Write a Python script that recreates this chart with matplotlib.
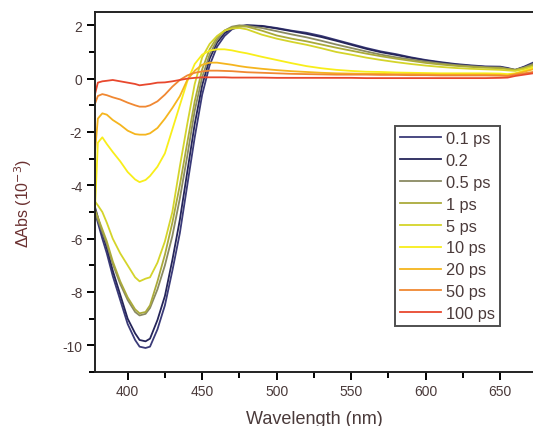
import matplotlib
matplotlib.use("Agg")
import matplotlib.pyplot as plt
from matplotlib.ticker import MultipleLocator

plt.rcParams['font.family'] = ['Liberation Sans', 'DejaVu Sans']
plt.rcParams['axes.unicode_minus'] = False

# wavelength grid (nm)
wl = [378, 380, 383, 386, 390, 395, 400, 405, 408, 412, 415, 420, 425, 430, 435,
      440, 445, 450, 455, 460, 465, 470, 475, 480, 490, 500, 510, 520, 530, 540,
      550, 560, 570, 580, 590, 600, 610, 620, 630, 640, 650, 655, 660, 666, 672]

# delta Abs (1e-3) for each delay
d_01 = [-5.0, -5.4, -6.0, -6.55, -7.4, -8.3, -9.2, -9.8, -10.05, -10.1, -10.05, -9.4, -8.5, -7.2, -5.8,
        -4.0, -2.2, -0.6, 0.5, 1.2, 1.6, 1.85, 1.95, 2.0, 1.98, 1.9, 1.8, 1.72, 1.6, 1.45,
        1.3, 1.15, 1.02, 0.92, 0.8, 0.7, 0.62, 0.55, 0.5, 0.46, 0.45, 0.4, 0.33, 0.45, 0.6]
d_02 = [-4.8, -5.2, -5.8, -6.35, -7.2, -8.1, -9.0, -9.55, -9.8, -9.85, -9.75, -9.05, -8.15, -6.8, -5.3,
        -3.5, -1.7, -0.25, 0.75, 1.35, 1.7, 1.9, 1.97, 2.0, 1.97, 1.88, 1.78, 1.68, 1.56, 1.42,
        1.27, 1.12, 0.99, 0.89, 0.78, 0.68, 0.6, 0.53, 0.48, 0.44, 0.43, 0.38, 0.32, 0.43, 0.56]
d_05 = [-5.0, -5.3, -5.75, -6.2, -6.95, -7.7, -8.3, -8.75, -8.88, -8.82, -8.6, -7.9, -7.0, -5.9, -4.5,
        -2.9, -1.2, 0.05, 0.9, 1.45, 1.8, 1.95, 2.0, 1.98, 1.9, 1.78, 1.66, 1.55, 1.42, 1.28,
        1.15, 1.02, 0.9, 0.8, 0.72, 0.64, 0.57, 0.51, 0.47, 0.43, 0.42, 0.37, 0.33, 0.42, 0.55]
d_1 = [-4.9, -5.2, -5.65, -6.1, -6.85, -7.6, -8.2, -8.65, -8.8, -8.75, -8.5, -7.6, -6.6, -5.4, -4.0,
       -2.4, -0.85, 0.35, 1.1, 1.55, 1.8, 1.92, 1.96, 1.95, 1.8, 1.62, 1.5, 1.4, 1.28, 1.16,
       1.05, 0.94, 0.84, 0.75, 0.67, 0.59, 0.53, 0.48, 0.44, 0.41, 0.39, 0.36, 0.33, 0.4, 0.5]
d_5 = [-4.6, -4.75, -5.0, -5.4, -6.0, -6.55, -7.0, -7.45, -7.6, -7.5, -7.45, -6.9, -6.1, -5.0, -3.3,
       -1.7, -0.2, 0.8, 1.3, 1.6, 1.8, 1.88, 1.9, 1.85, 1.65, 1.5, 1.38, 1.27, 1.14, 1.0,
       0.9, 0.79, 0.7, 0.62, 0.55, 0.49, 0.44, 0.4, 0.37, 0.35, 0.33, 0.31, 0.29, 0.36, 0.45]
d_10 = [-5.0, -2.4, -2.2, -2.45, -2.75, -3.1, -3.5, -3.78, -3.88, -3.8, -3.65, -3.3, -2.8, -1.9, -1.0,
        -0.1, 0.55, 0.9, 1.05, 1.1, 1.1, 1.06, 1.0, 0.95, 0.82, 0.7, 0.58, 0.47, 0.39, 0.33,
        0.29, 0.26, 0.25, 0.23, 0.22, 0.21, 0.2, 0.2, 0.2, 0.2, 0.19, 0.17, 0.2, 0.3, 0.4]
d_20 = [-2.8, -1.5, -1.3, -1.35, -1.55, -1.73, -1.95, -2.08, -2.1, -2.1, -2.05, -1.85, -1.5, -1.1, -0.66,
        -0.05, 0.3, 0.52, 0.6, 0.6, 0.56, 0.52, 0.47, 0.43, 0.37, 0.32, 0.28, 0.25, 0.22, 0.2,
        0.19, 0.18, 0.18, 0.17, 0.17, 0.16, 0.15, 0.15, 0.15, 0.15, 0.14, 0.12, 0.18, 0.26, 0.35]
d_50 = [-0.95, -0.65, -0.58, -0.62, -0.7, -0.78, -0.9, -1.0, -1.05, -1.05, -1.0, -0.85, -0.6, -0.3, -0.05,
        0.12, 0.22, 0.27, 0.3, 0.3, 0.29, 0.28, 0.26, 0.24, 0.22, 0.2, 0.18, 0.17, 0.16, 0.15,
        0.15, 0.15, 0.14, 0.14, 0.13, 0.13, 0.12, 0.12, 0.12, 0.12, 0.11, 0.1, 0.15, 0.2, 0.25]
d_100 = [-0.6, -0.15, -0.1, -0.08, -0.05, -0.1, -0.15, -0.2, -0.25, -0.22, -0.2, -0.15, -0.14, -0.1, -0.05,
         0.0, 0.03, 0.05, 0.05, 0.05, 0.05, 0.04, 0.04, 0.04, 0.04, 0.03, 0.03, 0.03, 0.03, 0.03,
         0.03, 0.02, 0.02, 0.02, 0.02, 0.02, 0.02, 0.02, 0.02, 0.02, 0.03, 0.04, 0.1, 0.15, 0.2]

labels = ['0.1 ps', '0.2', '0.5 ps', '1 ps', '5 ps', '10 ps', '20 ps', '50 ps', '100 ps']
series = [d_01, d_02, d_05, d_1, d_5, d_10, d_20, d_50, d_100]
colors = ['#3a3a78', '#25255a', '#8a8a62', '#aaaa3a', '#d4d42a', '#f8ee1a',
          '#f5b51e', '#f08832', '#e8482e']

text_col = '#4a3a3a'

fig = plt.figure(figsize=(5.33, 4.27), dpi=100)
ax = fig.add_axes([0.178, 0.1265, 0.822, 0.8431])

for y, lab, c in zip(series, labels, colors):
    ax.plot(wl, y, color=c, lw=1.3, label=lab)

ax.set_xlim(378, 672)
ax.set_ylim(-11, 2.5)
ax.xaxis.set_major_locator(MultipleLocator(50))
ax.xaxis.set_minor_locator(MultipleLocator(25))
ax.yaxis.set_major_locator(MultipleLocator(2))
ax.yaxis.set_minor_locator(MultipleLocator(1))
ax.tick_params(which='major', direction='out', length=6, width=1.4, labelsize=10,
               labelcolor=text_col, pad=3)
ax.tick_params(which='minor', direction='out', length=4, width=1.4)
ax.tick_params(top=False, right=False, which='both')
for s in ['left', 'bottom', 'top']:
    ax.spines[s].set_linewidth(1.4)
    ax.spines[s].set_color('#222222')
ax.spines['right'].set_visible(False)

ax.set_xlabel('Wavelength (nm)', fontsize=13, color=text_col, labelpad=8)
ax.set_ylabel('ΔAbs (10$^{-3}$)', fontsize=11.5, color='#6a3030')
ax.yaxis.set_label_coords(-0.14, 0.47)

leg = ax.legend(loc='upper left', bbox_to_anchor=(0.685, 0.683), fontsize=11.8,
                frameon=True, fancybox=False, edgecolor='#222222', handlelength=2.5,
                handletextpad=0.3, labelspacing=0.42, borderpad=0.3, borderaxespad=0)
leg.get_frame().set_linewidth(1.4)
for t in leg.get_texts():
    t.set_color(text_col)

fig.savefig('out.png', dpi=100)
